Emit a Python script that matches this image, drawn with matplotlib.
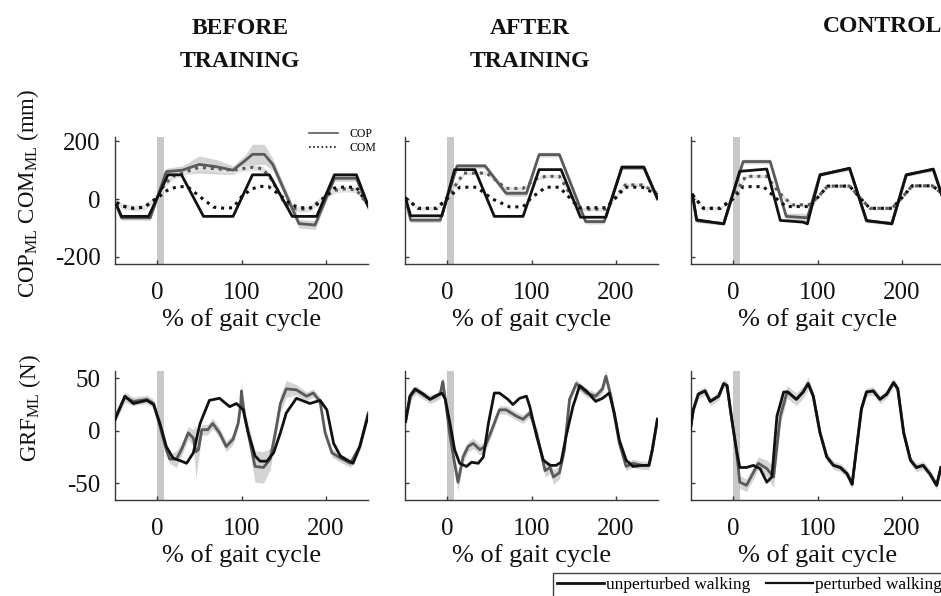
import numpy as np
import matplotlib.pyplot as plt
from matplotlib.lines import Line2D

plt.rcParams['font.family'] = ['Liberation Serif', 'DejaVu Serif']
plt.rcParams['mathtext.fontset'] = 'custom'
plt.rcParams['mathtext.rm'] = 'Liberation Serif'
plt.rcParams['mathtext.it'] = 'Liberation Serif:italic'
plt.rcParams['axes.unicode_minus'] = False

# ---------------- COP / COM (mm), BEFORE TRAINING ----------------
bt_cop_unp_x = [-48, -42, -10, 13, 29, 55, 90, 113, 133, 160, 189, 210, 236, 250]
bt_cop_unp_y = [-20, -60, -60, 84, 84, -60, -60, 84, 84, -60, -60, 84, 84, -23]
bt_cop_per_x = [-48, -42, -8, 11, 30, 50, 70, 90, 105, 113, 127, 137, 168, 187, 210, 236, 250]
bt_cop_per_y = [-20, -65, -65, 95, 100, 120, 112, 100, 135, 155, 155, 120, -85, -90, 72, 72, -28]
bt_cop_per_sd = [5, 8, 8, 12, 15, 30, 25, 15, 20, 35, 35, 20, 15, 15, 10, 10, 10]
bt_com_unp_x = [-48, -40, -28, -15, 0, 12, 24, 36, 50, 67, 80, 90, 100, 112, 122, 132, 145,
                159, 170, 185, 198, 210, 222, 236, 250]
bt_com_unp_y = [-12, -25, -32, -28, 3, 30, 43, 43, 10, -28, -32, -30, 8, 35, 44, 43, 15,
                -20, -30, -30, 5, 38, 42, 40, -20]
bt_com_per_x = [-48, -40, -28, -15, 0, 10, 20, 35, 50, 70, 90, 100, 113, 125, 135, 150, 165,
                180, 195, 210, 222, 236, 250]
bt_com_per_y = [-12, -25, -32, -28, 5, 55, 80, 95, 110, 105, 100, 105, 110, 105, 70, -10, -35,
                -35, 0, 30, 35, 32, -22]
bt_com_sd = 10

# ---------------- COP / COM (mm), AFTER TRAINING ----------------
at_cop_unp_x = [-49, -43, -6, 9, 33, 56, 90, 109, 135, 158, 188, 207, 233, 249]
at_cop_unp_y = [3, -58, -58, 102, 102, -60, -60, 102, 102, -63, -63, 111, 111, 3]
at_cop_per_x = [-49, -43, -8, 12, 45, 70, 94, 109, 133, 164, 186, 207, 233, 249]
at_cop_per_y = [0, -73, -73, 115, 115, 20, 20, 154, 154, -78, -78, 108, 108, 0]
at_cop_per_sd = [5, 8, 8, 8, 8, 10, 10, 8, 8, 8, 8, 6, 6, 6]
at_com_unp_x = [-49, -34, -12, 0, 15, 35, 54, 74, 90, 100, 117, 133, 145, 156, 188, 200, 211, 231, 249]
at_com_unp_y = [3, -32, -32, 0, 41, 41, 0, -27, -27, 5, 41, 41, 5, -30, -30, 5, 41, 41, 15]
at_com_per_x = [-49, -34, -12, 0, 20, 47, 70, 90, 105, 117, 133, 145, 156, 188, 200, 211, 231, 249]
at_com_per_y = [3, -32, -32, 5, 90, 90, 37, 37, 70, 79, 79, 20, -35, -35, 10, 49, 49, 20]
at_com_sd = 6

# ---------------- COP / COM (mm), CONTROL ----------------
ct_cop_unp_x = [-48, -43, -11, 8, 40, 56, 83, 88, 103, 138, 158, 188, 205, 237, 247]
ct_cop_unp_y = [15, -72, -86, 96, 104, -74, -80, -86, 83, 107, -74, -86, 83, 104, 15]
ct_cop_per_x = [-48, -43, -11, 12, 44, 63, 88, 103, 138, 158, 188, 205, 237, 247]
ct_cop_per_y = [15, -75, -85, 130, 130, -60, -65, 85, 105, -76, -84, 85, 102, 15]
ct_cop_per_sd = [5, 6, 6, 8, 8, 12, 15, 6, 6, 6, 6, 6, 6, 6]
ct_com_unp_x = [-48, -35, -15, 0, 12, 36, 50, 63, 91, 100, 112, 138, 150, 162, 188, 200, 212, 236, 247]
ct_com_unp_y = [15, -32, -32, 0, 43, 43, 5, -26, -26, 5, 45, 45, 5, -32, -32, 5, 46, 46, 20]
ct_com_per_x = [-48, -35, -15, 0, 15, 40, 55, 70, 90, 100, 112, 138, 150, 162, 188, 200, 212, 236, 247]
ct_com_per_y = [15, -32, -32, 5, 79, 79, 20, -20, -20, 5, 45, 45, 5, -32, -32, 5, 46, 46, 20]
ct_com_sd = 6

# ---------------- GRF (N), BEFORE TRAINING ----------------
bt_grf_unp_x = [-50, -38, -28, -12, -4, 3.5, 11, 19, 29, 35, 43, 51, 62, 74, 86, 94, 102, 108, 116,
                122, 130, 138, 146, 153, 165, 181, 193, 201, 209, 217, 225, 232, 240, 250]
bt_grf_unp_y = [10, 33, 26, 29, 25, 7, -15, -26, -29, -31, -21, 7, 29, 31, 23, 26, 20, -2, -24,
                -29, -29, -21, -2, 17, 31, 26, 29, 20, -12, -24, -28, -31, -15, 15]
bt_grf_per_x = [-50, -38, -28, -12, -4, 3.5, 11, 15, 23, 29, 37, 43, 46, 49, 53, 60, 66, 74, 82, 90,
                96, 99, 100, 101, 104, 112, 116, 126, 134, 140, 146, 153, 165, 177, 185, 193, 199,
                207, 217, 229, 240, 250]
bt_grf_per_y = [12, 32, 28, 30, 26, 4, -18, -27, -27, -18, -2, -7, -20, -18, 1, 1, 7, -2, -15, -8,
                7, 25, 38, 30, 13, -18, -34, -35, -27, -2, 26, 40, 39, 33, 36, 28, -2,
                -21, -26, -31, -15, 17]
bt_grf_per_sd = [5, 5, 4, 4, 4, 4, 4, 4, 8, 6, 6, 8, 25, 10, 5, 5, 5, 5, 5, 5,
                 5, 8, 10, 8, 6, 12, 15, 15, 10, 6, 8, 8, 5, 4, 4, 4, 4,
                 4, 4, 4, 4, 4]

# ---------------- GRF (N), AFTER TRAINING ----------------
at_grf_unp_x = [-49, -44, -38, -28, -20, -14, -6, -2, 3.5, 9, 15, 23, 29, 37, 43, 49, 56, 62, 72, 78,
                86, 94, 98, 106, 114, 122, 129, 135, 141, 149, 157, 165, 176, 184, 192, 198, 204,
                212, 220, 231, 239, 243, 249]
at_grf_unp_y = [9, 33, 40, 35, 30, 33, 36, 30, 7, -18, -31, -34, -30, -31, -25, 7, 36, 36, 30, 25,
                31, 33, 23, -5, -28, -33, -33, -30, -5, 23, 43, 38, 28, 31, 36, 17, -9,
                -28, -34, -33, -33, -18, 11]
at_grf_per_x = [-49, -43, -37, -28, -20, -14, -8, -5, -2, 3, 9, 13, 19, 25, 31, 39, 45, 53, 62, 70,
                82, 90, 98, 106, 116, 122, 126, 133, 139, 145, 153, 165, 176, 184, 188, 194, 204,
                212, 220, 231, 239, 243, 249]
at_grf_per_y = [9, 33, 39, 34, 30, 32, 35, 47, 30, -2, -31, -49, -25, -15, -12, -18, -15, 1, 20, 20,
                14, 11, 17, -2, -38, -35, -44, -40, -18, 30, 45, 36, 33, 40, 52, 33, -12,
                -34, -31, -33, -33, -18, 11]
at_grf_per_sd = [4, 4, 4, 4, 4, 4, 4, 5, 4, 4, 6, 8, 6, 5, 5, 5, 5, 5, 4, 4,
                 4, 4, 4, 5, 6, 6, 7, 6, 5, 4, 4, 4, 4, 4, 6, 4, 4,
                 4, 4, 4, 4, 4, 4]

# ---------------- GRF (N), CONTROL ----------------
ct_grf_unp_x = [-51, -47, -41, -33, -27, -17, -11, -7, -2, 4, 8, 16, 24, 32, 40, 46, 52, 60, 65, 75,
                83, 89, 95, 103, 111, 119, 127, 135, 141, 146, 152, 158, 166, 174, 182, 190, 195,
                202, 210, 217, 225, 233, 241, 246]
ct_grf_unp_y = [-2, 20, 35, 38, 28, 33, 45, 43, 14, -18, -35, -35, -33, -36, -49, -44, 14, 37, 37, 30,
                37, 45, 33, -2, -25, -33, -35, -41, -51, -18, 21, 37, 38, 30, 35, 46, 40,
                -2, -28, -35, -33, -41, -52, -35]
ct_grf_per_x = [-51, -47, -41, -33, -27, -17, -11, -7, -2, 4, 8, 16, 24, 30, 40, 48, 56, 64, 75,
                83, 89, 95, 103, 111, 119, 127, 135, 141, 146, 152, 158, 166, 174, 182, 190, 195,
                202, 210, 217, 225, 233, 241, 246]
ct_grf_per_y = [-2, 20, 35, 38, 28, 33, 45, 43, 14, -18, -49, -52, -40, -31, -36, -44, 14, 37, 30,
                37, 45, 33, -2, -25, -33, -35, -41, -51, -18, 21, 37, 38, 30, 35, 46, 40,
                -2, -28, -35, -33, -41, -52, -35]
ct_grf_per_sd = [4, 4, 4, 4, 4, 4, 4, 4, 4, 5, 6, 6, 6, 6, 8, 10, 8, 6, 6,
                 6, 6, 4, 4, 4, 4, 4, 4, 4, 4, 4, 4, 4, 4, 4, 4, 4,
                 4, 4, 4, 4, 4, 4, 4]

titles = ['BEFORE\nTRAINING', 'AFTER\nTRAINING', 'CONTROL']
xticks = [0, 100, 200]
cop_yticks = [-200, 0, 200]
grf_yticks = [-50, 0, 50]

UNP = '#111111'
PER = '#5a5a5a'
BAND = '#d4d4d4'

fig = plt.figure(figsize=(9.41, 5.96), dpi=100)
W, H = 941.0, 596.0


def px_axes(x0, x1, y0, y1):
    return fig.add_axes([x0 / W, 1 - y1 / H, (x1 - x0) / W, (y1 - y0) / H])


def style(ax, ylim, yticks, first):
    ax.set_xlim(-50, 250)
    ax.set_ylim(*ylim)
    ax.set_xticks(xticks)
    ax.set_yticks(yticks)
    for s in ['top', 'right']:
        ax.spines[s].set_visible(False)
    for s in ['left', 'bottom']:
        ax.spines[s].set_color('#3a3a3a')
        ax.spines[s].set_linewidth(1.0)
    ax.tick_params(direction='in', length=3, width=1, color='#3a3a3a',
                   labelsize=18, labelcolor='#111111')
    ax.tick_params(axis='x', pad=13)
    ax.tick_params(axis='y', pad=10)
    if not first:
        ax.set_yticklabels([])
    ax.set_xlabel('% of gait cycle', fontsize=19, labelpad=3, color='#111111')
    ax.axvspan(0, 8, color='#c8c8c8', lw=0, zorder=0)


def draw_top(ax, cu, cp, csd, mu, mp, msd):
    cpx, cpy = np.array(cp[0]), np.array(cp[1])
    mpx, mpy = np.array(mp[0]), np.array(mp[1])
    ax.fill_between(cpx, cpy - np.array(csd), cpy + np.array(csd), color=BAND, lw=0, zorder=1)
    ax.fill_between(mpx, mpy - msd, mpy + msd, color='#e2e2e2', lw=0, zorder=1)
    ax.plot(mpx, mpy, ls=(0, (1, 1.6)), color=PER, lw=2.2, zorder=2)
    ax.plot(cpx, cpy, color=PER, lw=2.0, zorder=3)
    ax.plot(mu[0], mu[1], ls=(0, (1, 1.6)), color=UNP, lw=2.2, zorder=4)
    ax.plot(cu[0], cu[1], color=UNP, lw=2.0, zorder=5)


def draw_bot(ax, gu, gp, gsd):
    gpx, gpy = np.array(gp[0]), np.array(gp[1])
    ax.fill_between(gpx, gpy - np.array(gsd), gpy + np.array(gsd), color=BAND, lw=0, zorder=1)
    ax.plot(gpx, gpy, color=PER, lw=2.0, zorder=3)
    ax.plot(gu[0], gu[1], color=UNP, lw=2.0, zorder=4)


zeros_px = [157, 447, 733]
axes_top, axes_bot = [], []
for z in zeros_px:
    axes_top.append(px_axes(z - 42.25, z + 211.25, 137, 264))
    axes_bot.append(px_axes(z - 42.25, z + 211.25, 371, 500))

top_data = [
    ((bt_cop_unp_x, bt_cop_unp_y), (bt_cop_per_x, bt_cop_per_y), bt_cop_per_sd,
     (bt_com_unp_x, bt_com_unp_y), (bt_com_per_x, bt_com_per_y), bt_com_sd),
    ((at_cop_unp_x, at_cop_unp_y), (at_cop_per_x, at_cop_per_y), at_cop_per_sd,
     (at_com_unp_x, at_com_unp_y), (at_com_per_x, at_com_per_y), at_com_sd),
    ((ct_cop_unp_x, ct_cop_unp_y), (ct_cop_per_x, ct_cop_per_y), ct_cop_per_sd,
     (ct_com_unp_x, ct_com_unp_y), (ct_com_per_x, ct_com_per_y), ct_com_sd),
]
bot_data = [
    ((bt_grf_unp_x, bt_grf_unp_y), (bt_grf_per_x, bt_grf_per_y), bt_grf_per_sd),
    ((at_grf_unp_x, at_grf_unp_y), (at_grf_per_x, at_grf_per_y), at_grf_per_sd),
    ((ct_grf_unp_x, ct_grf_unp_y), (ct_grf_per_x, ct_grf_per_y), ct_grf_per_sd),
]

for i in range(3):
    style(axes_top[i], (-225, 215), cop_yticks, i == 0)
    draw_top(axes_top[i], *top_data[i])
    style(axes_bot[i], (-66, 57), grf_yticks, i == 0)
    draw_bot(axes_bot[i], *bot_data[i])

# column titles
title_pos = [(240, 45), (530, 45), (883, 27)]
for t, (tx, ty) in zip(titles, title_pos):
    fig.text(tx / W, 1 - ty / H, t, ha='center', va='center', fontsize=17,
             fontweight='bold', linespacing=1.75, color='#111111')

# y labels
fig.text(28 / W, 1 - 193 / H, r'COP$_{\mathrm{ML}}$ COM$_{\mathrm{ML}}$ (mm)', rotation=90,
         ha='center', va='center', fontsize=16.5, color='#111111')
fig.text(30 / W, 1 - 408 / H, r'GRF$_{\mathrm{ML}}$ (N)', rotation=90,
         ha='center', va='center', fontsize=16.5, color='#111111')

# small COP / COM legend
h_top = [Line2D([], [], color=PER, lw=1.2), Line2D([], [], color=UNP, lw=1.2, ls=(0, (1, 1.5)))]
axes_top[0].legend(h_top, ['COP', 'COM'], loc='center', bbox_to_anchor=(343 / W, 1 - 141 / H),
                   bbox_transform=fig.transFigure, frameon=False, fontsize=8.5,
                   handlelength=2.4, labelspacing=0.2, handletextpad=1.0, borderpad=0)

# walking legend
h_bot = [Line2D([], [], color=UNP, lw=2.0), Line2D([], [], color=UNP, lw=1.6)]
leg = fig.legend(h_bot, ['unperturbed walking', 'perturbed walking'], loc='upper left',
                 bbox_to_anchor=(553 / W, 1 - 573 / H), ncol=2, fontsize=12.5,
                 frameon=True, fancybox=False, edgecolor='#111111', handlelength=2.7,
                 handletextpad=0.1, columnspacing=0.9, borderpad=0.25, borderaxespad=0)
leg.get_frame().set_linewidth(1.0)

fig.savefig('out.png', dpi=100)
